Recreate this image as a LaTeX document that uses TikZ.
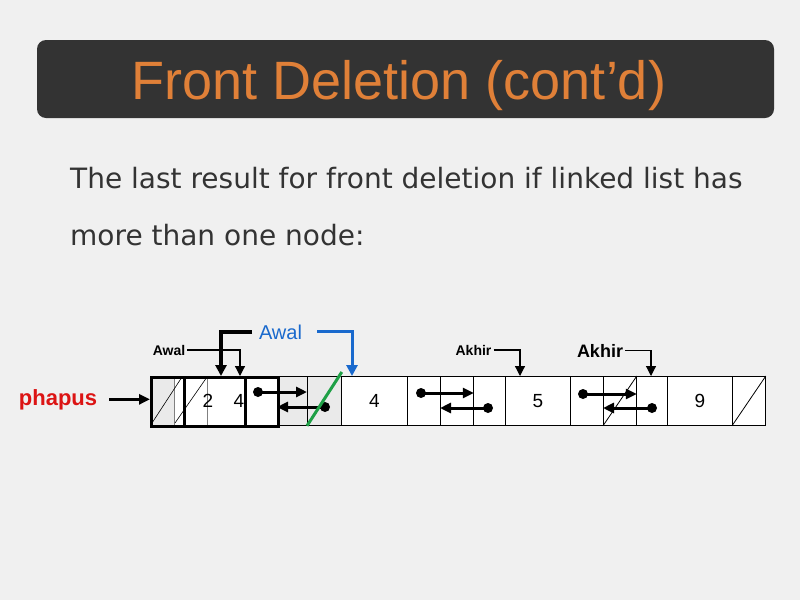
\documentclass[tikz,border=0pt]{standalone}
\usepackage{fontspec}
\setmainfont{Liberation Sans}
\newfontfamily\bodyfont{DejaVu Sans}
\usepackage{tikz}
\usetikzlibrary{arrows.meta}

\definecolor{slidebg}{RGB}{240,240,240}
\definecolor{titlebg}{RGB}{51,51,51}
\definecolor{titleorange}{RGB}{224,128,56}
\definecolor{bodytext}{RGB}{51,51,51}
\definecolor{cellgray}{RGB}{234,234,234}
\definecolor{awalblue}{RGB}{25,105,205}
\definecolor{delgreen}{RGB}{30,160,70}
\definecolor{phapusred}{RGB}{220,20,20}

\tikzset{
   cell/.style={draw, line width=0.8pt, inner sep=0pt, minimum height=49pt,
      anchor=north west, font=\fontsize{19}{19}\selectfont},
   digit/.style={inner sep=0pt, font=\fontsize{19}{19}\selectfont},
   dot/.style={circle, fill=black, inner sep=0pt, minimum size=10pt},
   link/.style={line width=3pt, -{Triangle[length=11pt,width=10pt]}},
   ptr/.style={line width=1.2pt, -{Triangle[length=10pt,width=10pt]}},
   ptrlabel/.style={anchor=base, inner sep=2pt, font=\bfseries\fontsize{14}{14}\selectfont}
}

\begin{document}
\begin{tikzpicture}[x=1pt, y=-1pt]
   \fill[slidebg] (0,0) rectangle (800,600);
   \useasboundingbox (0,0) rectangle (800,600);

   \node[name=titlebox, fill=titlebg, rounded corners=9pt, inner sep=0pt,
      minimum width=737pt, minimum height=78pt] at (405.5,79) {};
   \node[name=title, anchor=base, inner sep=0pt, text=titleorange,
      font=\fontsize{54}{60}\selectfont] at (399,99) {Front Deletion (cont’d)};

   \node[name=lineone, anchor=base west, inner sep=0pt, text=bodytext,
      font=\bodyfont\fontsize{28}{30}\selectfont] at (70,188)
      {The last result for front deletion if linked list has};
   \node[name=linetwo, anchor=base west, inner sep=0pt, text=bodytext,
      font=\bodyfont\fontsize{28}{30}\selectfont] at (70,245)
      {more than one node:};

   \foreach \l/\r/\n/\t/\c in {277/307/gapA//cellgray, 307/341/prevA//cellgray,
         341/407/dataA/4/white, 407/440/nextA//white, 440/473/gapB//white,
         473/505/prevB//white, 505/570/dataB/5/white, 570/603/nextB//white,
         603/636/gapC//white, 636/667/prevC//white, 667/732/dataC/9/white,
         732/765/nextC//white}
      \node[cell, fill=\c, minimum width={(\r-\l)*1pt}] (\n) at (\l,376) {\t};

   \draw[line width=0.8pt] (gapC.south west) -- (gapC.north east);
   \draw[line width=0.8pt] (nextC.south west) -- (nextC.north east);

   \fill[cellgray] (150,376) rectangle (174,425);
   \fill[white] (174,376) rectangle (277,425);
   \draw[gray, line width=0.8pt] (174,376) -- (174,425) (207,376) -- (207,425);
   \draw[line width=0.6pt] (152,423) -- (182,377) (175,423) -- (207,377);
   \node[name=oldtwo, digit] at (208,400.5) {2};
   \node[name=oldfour, digit] at (239,400.5) {4};
   \node[name=oldnode, draw, line width=3pt, inner sep=0pt, anchor=north west,
      minimum width=127pt, minimum height=49pt] at (150,376) {};
   \draw[line width=3pt] (184,376) -- (184,425) (245,376) -- (245,425);

   \node[dot] (dotA) at (258,392) {};
   \node[dot] (dotB) at (325,407) {};
   \node[dot] (dotC) at (421,393) {};
   \node[dot] (dotD) at (488,408) {};
   \node[dot] (dotE) at (583,394) {};
   \node[dot] (dotF) at (652,408) {};
   \draw[link] (dotA.center) -- (prevA.west |- dotA);
   \draw[link] (dotB.center) -- (gapA.west |- dotB);
   \draw[link] (dotC.center) -- (gapB.east |- dotC);
   \draw[link] (dotD.center) -- (gapB.west |- dotD);
   \draw[link] (dotE.center) -- (gapC.east |- dotE);
   \draw[link] (dotF.center) -- (gapC.west |- dotF);

   \draw[delgreen, line width=3pt] (prevA.south west) -- ([yshift=4pt]prevA.north east);

   \node[name=phapus, anchor=base, inner sep=2pt, text=phapusred,
      font=\bfseries\fontsize{22}{22}\selectfont] at (58,405) {phapus};
   \draw[link] ([xshift=10pt]phapus.east) -- (oldnode.west |- phapus.east);

   \node[name=awalold, ptrlabel] at (169,355) {Awal};
   \coordinate (awaloldtip) at (240,376);
   \draw[ptr] (awalold.east) -| (awaloldtip);

   \coordinate (awalthick) at (252,332);
   \coordinate (awalthicktip) at (221,376);
   \draw[line width=4pt, -{Triangle[length=11pt,width=11pt]}] (awalthick) -| (awalthicktip);

   \node[name=awalnew, anchor=base, inner sep=2pt, text=awalblue,
      font=\fontsize{20}{20}\selectfont] at (280.5,339) {Awal};
   \coordinate (awalnewtip) at (352,376);
   \draw[awalblue, line width=3pt, -{Triangle[length=11pt,width=11pt]}]
      ([xshift=13pt]awalnew.east) -| (awalnewtip);

   \node[name=akhirold, ptrlabel] at (473.5,355) {Akhir};
   \coordinate (akhiroldtip) at (520,376);
   \draw[ptr] (akhirold.east) -| (akhiroldtip);

   \node[name=akhirnew, ptrlabel, font=\bfseries\fontsize{18}{18}\selectfont] at (600,357) {Akhir};
   \coordinate (akhirnewtip) at (651,376);
   \draw[ptr] (akhirnew.east) -| (akhirnewtip);
\end{tikzpicture}
\end{document}
